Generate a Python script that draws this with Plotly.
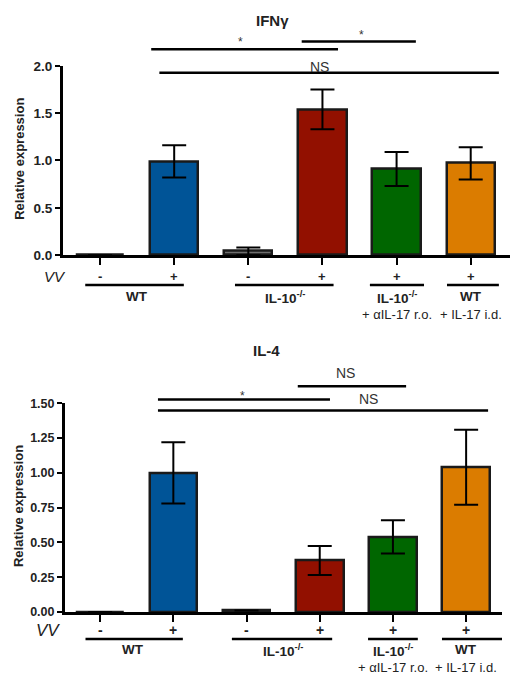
import plotly.graph_objects as go

# ---------------- data ----------------
groups = ["WT -", "WT +", "IL-10-/- -", "IL-10-/- +", "IL-10-/- + aIL-17 r.o.", "WT + IL-17 i.d."]
vv_signs = ["-", "+", "-", "+", "+", "+"]
bar_colors = ["#FFFFFF", "#005497", "#6E6E6E", "#921000", "#006600", "#DB7C00"]

ifng_mean = [0.0, 0.99, 0.04, 1.54, 0.91, 0.97]
ifng_err = [0.0, 0.17, 0.04, 0.21, 0.18, 0.17]
il4_mean = [0.0, 1.00, 0.01, 0.37, 0.54, 1.04]
il4_err = [0.0, 0.22, 0.0, 0.105, 0.12, 0.27]

ifng_ticks = [0.0, 0.5, 1.0, 1.5, 2.0]
ifng_ticktext = ["0.0", "0.5", "1.0", "1.5", "2.0"]
il4_ticks = [0.0, 0.25, 0.5, 0.75, 1.0, 1.25, 1.5]
il4_ticktext = ["0.00", "0.25", "0.50", "0.75", "1.00", "1.25", "1.50"]

# significance brackets: (x start, x end, y level)
ifng_sig_lines = [(0.69, 3.21, 2.176), (2.72, 4.26, 2.258), (0.80, 5.38, 1.928)]
ifng_sig_text = [("*", 1.90, 2.25), ("*", 3.52, 2.33), ("NS", 2.96, 1.99)]
il4_sig_lines = [(0.79, 3.14, 1.528), (2.70, 4.18, 1.622), (0.79, 5.30, 1.449)]
il4_sig_text = [("*", 1.95, 1.555), ("NS", 3.35, 1.718), ("NS", 3.66, 1.528)]

# genotype groups under the axis: (x start, x end, label, sublabel, label x)
group_spans_top = [(-0.2, 1.13, "WT", "", 0.5), (1.82, 3.15, "IL-10<sup>-/-</sup>", "", 2.5),
                   (3.64, 4.37, "IL-10<sup>-/-</sup>", "+ \u03b1IL-17 r.o.", 4.0),
                   (4.68, 5.38, "WT", "+ IL-17 i.d.", 5.0)]
group_spans_bot = [(-0.2, 1.13, "WT", "", 0.45), (1.8, 3.17, "IL-10<sup>-/-</sup>", "", 2.5),
                   (3.66, 4.34, "IL-10<sup>-/-</sup>", "+ \u03b1IL-17 r.o.", 4.0),
                   (4.67, 5.49, "WT", "+ IL-17 i.d.", 5.0)]

W, H = 518, 686
OFF = 8  # page body margin
FONT = "Liberation Sans, Arial, sans-serif"


def px(x):
    return (x - OFF) / W


def py(y):
    return 1 - (y - OFF) / H


x_pos = list(range(len(groups)))

fig = go.Figure()

for mean, err, xa, ya in [(ifng_mean, ifng_err, "x", "y"), (il4_mean, il4_err, "x2", "y2")]:
    fig.add_trace(go.Bar(
        x=x_pos, y=mean, width=0.65, xaxis=xa, yaxis=ya,
        marker=dict(color=bar_colors, line=dict(color="#1a1a1a", width=2.5)),
        error_y=dict(type="data", array=err, color="black", thickness=2, width=12, visible=True),
        showlegend=False, hoverinfo="skip",
    ))

for lines, xa, ya in [(ifng_sig_lines, "x", "y3"), (il4_sig_lines, "x2", "y4")]:
    for (x0, x1, yv) in lines:
        fig.add_trace(go.Scatter(x=[x0, x1], y=[yv, yv], mode="lines", xaxis=xa, yaxis=ya,
                                 line=dict(color="black", width=2.5), showlegend=False,
                                 hoverinfo="skip"))

annotations = []
C = dict(xanchor="center", yanchor="middle", showarrow=False)
for texts, xa, ya in [(ifng_sig_text, "x", "y3"), (il4_sig_text, "x2", "y4")]:
    for (t, xv, yv) in texts:
        annotations.append(dict(text=t, x=xv, y=yv, xref=xa, yref=ya, **C,
                                font=dict(family=FONT, size=14 if t == "NS" else 12, color="#333333")))

# titles
annotations.append(dict(text="<b>IFN\u03b3</b>", x=px(272), y=py(14), xref="paper", yref="paper", **C,
                        font=dict(family=FONT, size=15, color="#222222")))
annotations.append(dict(text="<b>IL-4</b>", x=px(266), y=py(351), xref="paper", yref="paper", **C,
                        font=dict(family=FONT, size=15, color="#222222")))
# y titles
for yc, xc in [(155, 20), (510, 18)]:
    annotations.append(dict(text="<b>Relative expression</b>", x=px(xc), y=py(yc), xref="paper",
                            yref="paper", textangle=-90, **C,
                            font=dict(family=FONT, size=13, color="#222222")))

shapes = []
# under-axis rows
for xa, vv_y, line_y, lab_y, sub_y, spans, vvx, vvs, ss in [
        ("x", 275, 284, 296, 314, group_spans_top, 55, 15, 13),
        ("x2", 637, 646, 657, 675, group_spans_bot, 48, 17, 14)]:
    annotations.append(dict(text="<i>VV</i>", x=px(vvx), y=py(vv_y), xref="paper", yref="paper", **C,
                            font=dict(family=FONT, size=vvs, color="#222222")))
    for xv, s in zip(x_pos, vv_signs):
        annotations.append(dict(text="<b>" + s + "</b>", x=xv, y=py(vv_y), xref=xa, yref="paper", **C,
                                font=dict(family=FONT, size=ss, color="#222222")))
    for (x0, x1, lab, sub, lx) in spans:
        shapes.append(dict(type="line", xref=xa, yref="paper", x0=x0, x1=x1, y0=py(line_y),
                           y1=py(line_y), line=dict(color="black", width=2.5)))
        annotations.append(dict(text="<b>" + lab + "</b>", x=lx, y=py(lab_y), xref=xa, yref="paper", **C,
                                font=dict(family=FONT, size=13.5, color="#222222")))
        if sub:
            annotations.append(dict(text=sub, x=lx, y=py(sub_y), xref=xa, yref="paper", **C,
                                    font=dict(family=FONT, size=13, color="#222222")))

xaxis_common = dict(showline=True, linewidth=3, linecolor="black", ticks="outside", ticklen=7,
                    tickwidth=2, tickcolor="black", tickvals=x_pos, showticklabels=False,
                    showgrid=False, zeroline=False, fixedrange=True)
yaxis_common = dict(showline=True, linewidth=3, linecolor="black", ticks="outside", ticklen=5,
                    tickwidth=2, tickcolor="black", showgrid=False, zeroline=False)

fig.update_layout(
    width=W, height=H, margin=dict(l=0, r=0, t=0, b=0),
    paper_bgcolor="white", plot_bgcolor="rgba(0,0,0,0)", bargap=0,
    xaxis=dict(domain=[px(63), px(510)], range=[-0.5, 5.53], anchor="y", **xaxis_common),
    yaxis=dict(domain=[py(253.5), py(60)], range=[0, 2.0], anchor="x", tickvals=ifng_ticks,
               ticktext=ifng_ticktext,
               tickfont=dict(family=FONT, size=13.5, color="#222222", weight="bold"), **yaxis_common),
    xaxis2=dict(domain=[px(65), px(502)], range=[-0.48, 5.49], anchor="y2", **xaxis_common),
    yaxis2=dict(domain=[py(618.3), py(405)], range=[0, 1.5], anchor="x2", tickvals=il4_ticks,
                ticktext=il4_ticktext,
                tickfont=dict(family=FONT, size=12.5, color="#222222", weight="bold"), **yaxis_common),
    yaxis3=dict(domain=[py(253.5), py(20)], range=[0, (253.5 - 20) / 96.75], anchor="x",
                visible=False, fixedrange=True),
    yaxis4=dict(domain=[py(618.3), py(365)], range=[0, (618.3 - 365) / 142.2], anchor="x2",
                visible=False, fixedrange=True),
    annotations=annotations, shapes=shapes,
)

fig.write_html("out.html")
